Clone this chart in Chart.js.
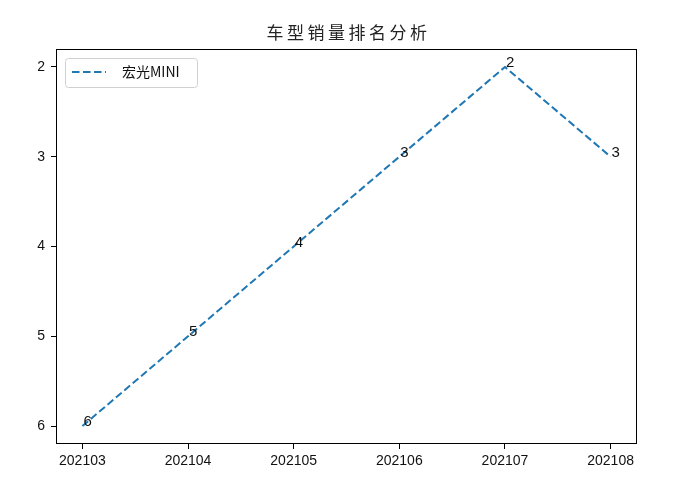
<!DOCTYPE html>
<html>
<head>
<meta charset="utf-8">
<script src="https://cdn.jsdelivr.net/npm/chart.js@4"></script>
<style>
  html, body { margin: 0; padding: 0; background: #fff; }
  #wrap { width: 688px; height: 498px; }
</style>
</head>
<body>
<div id="wrap"><canvas id="chartRank"></canvas></div>
<script>
/* ===== DONNEES ===== */
const months = ['202103','202104','202105','202106','202107','202108'];
const ranks  = [6, 5, 4, 3, 2, 3];
const yTicks = [2, 3, 4, 5, 6];
const seriesName = '宏光MINI';
const chartTitle = '车型销量排名分析';

const BLUE = '#1f77b4';
const TICK_FONT = { family: "'Liberation Sans', Arial, sans-serif", size: 14 };

/* ===== PLUGINS ===== */
// titre centré sur la zone de tracé, un peu espacé
const spacedTitle = {
  id: 'spacedTitle',
  afterDraw(chart) {
    const { ctx, chartArea: a } = chart;
    ctx.save();
    ctx.fillStyle = '#222';
    ctx.font = "17px 'Noto Sans CJK SC', sans-serif";
    ctx.letterSpacing = '3.5px';
    ctx.textAlign = 'center';
    ctx.textBaseline = 'middle';
    ctx.fillText(chartTitle, (a.left + a.right) / 2 + 2, 33);
    ctx.restore();
  }
};

// cadre complet autour de la zone de tracé
const frame = {
  id: 'frame',
  afterDraw(chart) {
    const { ctx, chartArea: a } = chart;
    ctx.save();
    ctx.strokeStyle = '#000';
    ctx.lineWidth = 1;
    ctx.strokeRect(a.left + 0.5, a.top + 0.5, a.right - a.left - 1, a.bottom - a.top - 1);
    ctx.restore();
  }
};

// étiquette de valeur à côté de chaque point
const pointLabels = {
  id: 'pointLabels',
  afterDatasetsDraw(chart) {
    const { ctx } = chart;
    const meta = chart.getDatasetMeta(0);
    ctx.save();
    ctx.fillStyle = '#111';
    ctx.font = "15px 'Liberation Sans', Arial, sans-serif";
    ctx.textAlign = 'left';
    ctx.textBaseline = 'middle';
    meta.data.forEach((pt, i) => {
      ctx.fillText(String(ranks[i]), pt.x + 1, pt.y - 4);
    });
    ctx.restore();
  }
};

// légende façon matplotlib, en haut à gauche
const boxLegend = {
  id: 'boxLegend',
  afterDraw(chart) {
    const { ctx, chartArea: a } = chart;
    const x = a.left + 9, y = a.top + 9, w = 132, h = 29;
    ctx.save();
    ctx.fillStyle = 'rgba(255,255,255,0.8)';
    ctx.strokeStyle = '#d0d0d0';
    ctx.lineWidth = 1;
    ctx.beginPath();
    ctx.roundRect(x + 0.5, y + 0.5, w, h, 3);
    ctx.fill();
    ctx.stroke();
    ctx.strokeStyle = BLUE;
    ctx.lineWidth = 2;
    ctx.setLineDash([7.5, 3.5]);
    ctx.beginPath();
    ctx.moveTo(x + 7, y + 14);
    ctx.lineTo(x + 41, y + 14);
    ctx.stroke();
    ctx.setLineDash([]);
    ctx.fillStyle = '#111';
    ctx.font = "14px 'Noto Sans CJK SC', sans-serif";
    ctx.textBaseline = 'middle';
    ctx.fillText(seriesName, x + 57, y + 14);
    ctx.restore();
  }
};

/* ===== GRAPHIQUE ===== */
new Chart(document.getElementById('chartRank'), {
  type: 'line',
  data: {
    datasets: [{
      label: seriesName,
      data: ranks.map((r, i) => ({ x: i, y: r })),
      borderColor: BLUE,
      borderWidth: 2,
      borderDash: [7.5, 3.5],
      pointRadius: 0,
      fill: false,
      tension: 0
    }]
  },
  options: {
    responsive: true, maintainAspectRatio: false, animation: false,
    devicePixelRatio: 1,
    layout: { padding: { left: 0, right: 51, top: 49, bottom: 0 } },
    plugins: {
      legend: { display: false },
      tooltip: { enabled: false },
      title: { display: false }
    },
    scales: {
      x: {
        type: 'linear', min: -0.25, max: 5.25,
        afterBuildTicks: (s) => { s.ticks = months.map((m, i) => ({ value: i })); },
        afterFit: (s) => { s.height = 54; },
        ticks: { color: '#111', font: TICK_FONT, padding: 4, maxRotation: 0, autoSkip: false,
                 callback: (v) => months[v] },
        grid: { drawOnChartArea: false, drawTicks: true, tickLength: 5, color: '#000' },
        border: { display: false }
      },
      y: {
        type: 'linear', reverse: true, min: 1.8, max: 6.2,
        afterBuildTicks: (s) => { s.ticks = yTicks.map(v => ({ value: v })); },
        afterFit: (s) => { s.width = 56; },
        ticks: { color: '#111', font: TICK_FONT, padding: 6 },
        grid: { drawOnChartArea: false, drawTicks: true, tickLength: 5, color: '#000' },
        border: { display: false }
      }
    }
  },
  plugins: [spacedTitle, frame, pointLabels, boxLegend]
});
</script>
</body>
</html>
